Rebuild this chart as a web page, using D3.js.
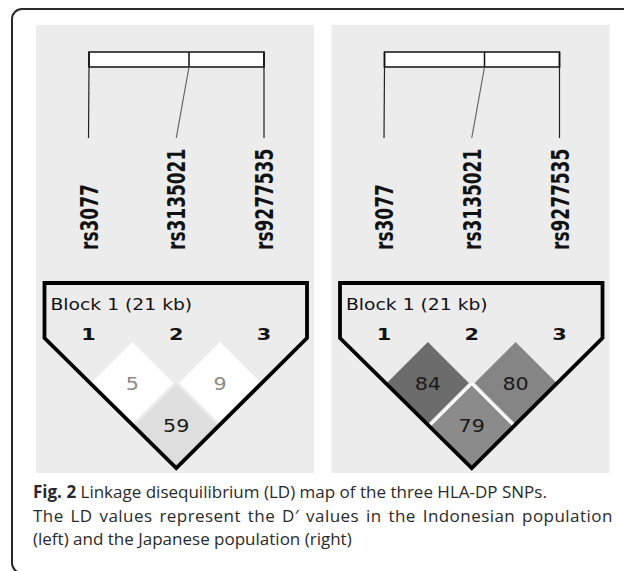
<!DOCTYPE html>
<html>
<head>
<meta charset="utf-8">
<script src="https://cdn.jsdelivr.net/npm/d3@7"></script>
<style>
  body { margin: 0; background: #fff; }
  svg { display: block; }
</style>
</head>
<body>
<script>
// SNPs and their position inside the 21 kb block
const snpNames = ["rs3077", "rs3135021", "rs9277535"];
const snpIndex = ["1", "2", "3"];
const snpKb = [0, 12, 21];

// pairwise D' values (x100), pairs as [i, j]
const pairs = [[0, 1], [1, 2], [0, 2]];
const dIndonesian = [5, 9, 59];
const dJapanese = [84, 80, 79];

const blockLabel = "Block 1 (21 kb)";
const captionBold = "Fig. 2";
const captionLines = [
  " Linkage disequilibrium (LD) map of the three HLA-DP SNPs.",
  "The LD values represent the D\u2032 values in the Indonesian population",
  "(left) and the Japanese population (right)"
];

(function app() {
  const W = 624, H = 571;
  const svg = d3.select("body").append("svg")
    .attr("width", W).attr("height", H);

  // outer frame, open to the right and bottom
  svg.append("rect")
    .attr("x", 12).attr("y", 9)
    .attr("width", 700).attr("height", 564)
    .attr("rx", 10)
    .attr("fill", "none")
    .attr("stroke", "#2a2a2a")
    .attr("stroke-width", 2);

  const panelW = 278, panelH = 448;

  const snpX = d3.scalePoint().domain(snpIndex).range([52.5, 228]);
  const kbX = d3.scaleLinear().domain([0, 21]).range([53, 228]);

  const color = d3.scaleLinear()
    .domain([10, 59, 79, 84])
    .range(["#ffffff", "#dedede", "#8b8b8b", "#6c6c6c"])
    .clamp(true);

  const half = 41, rowStep = 42, row1 = 358;

  function drawPanel(ox, values, outlineCells) {
    const g = svg.append("g").attr("transform", `translate(${ox},25)`);

    g.append("rect")
      .attr("width", panelW).attr("height", panelH)
      .attr("fill", "#ececec");

    // physical map
    g.append("rect")
      .attr("x", kbX(0)).attr("y", 27)
      .attr("width", kbX(21) - kbX(0)).attr("height", 15)
      .attr("fill", "#fff")
      .attr("stroke", "#111")
      .attr("stroke-width", 1.5);

    g.selectAll("line.tick")
      .data(snpKb)
      .enter()
      .append("line")
      .attr("class", "tick")
      .attr("x1", d => kbX(d)).attr("x2", d => kbX(d))
      .attr("y1", 27).attr("y2", 42)
      .attr("stroke", "#111").attr("stroke-width", 1.5);

    g.selectAll("line.link")
      .data(snpKb)
      .enter()
      .append("line")
      .attr("class", "link")
      .attr("x1", d => kbX(d))
      .attr("x2", (d, i) => snpX(snpIndex[i]))
      .attr("y1", 42).attr("y2", 113)
      .attr("stroke", (d, i) => (i === 1 ? "#666" : "#222"))
      .attr("stroke-width", 1.2);

    // rotated SNP names
    g.selectAll("text.snp")
      .data(snpNames)
      .enter()
      .append("text")
      .attr("class", "snp")
      .attr("transform", (d, i) =>
        `translate(${snpX(snpIndex[i]) + 9},225) scale(1.45,1) rotate(-90)`)
      .attr("font-family", "DejaVu Sans")
      .attr("font-weight", "bold")
      .attr("font-size", 17)
      .attr("fill", "#111")
      .text(d => d);

    // LD cells
    const cells = g.append("g").attr("class", "cells");
    const cellData = pairs.map((p, k) => {
      const cx = (snpX(snpIndex[p[0]]) + snpX(snpIndex[p[1]])) / 2;
      const cy = row1 + (p[1] - p[0] - 1) * rowStep;
      return { cx, cy, v: values[k], k, span: p[1] - p[0] };
    });

    cells.selectAll("path.cell")
      .data(cellData)
      .enter()
      .append("path")
      .attr("class", "cell")
      .attr("d", d =>
        `M${d.cx},${d.cy - half}L${d.cx + half},${d.cy}L${d.cx},${d.cy + half}L${d.cx - half},${d.cy}Z`)
      .attr("fill", d => color(d.v));

    if (outlineCells) {
      cells.selectAll("path.edge")
        .data(cellData.filter(d => d.span > 1))
        .enter()
        .append("path")
        .attr("class", "edge")
        .attr("d", d =>
          `M${d.cx - half},${d.cy}L${d.cx},${d.cy - half}L${d.cx + half},${d.cy}`)
        .attr("fill", "none")
        .attr("stroke", "#fff")
        .attr("stroke-width", 2);
    }

    cells.selectAll("text")
      .data(cellData)
      .enter()
      .append("text")
      .attr("transform", d => `translate(${d.cx},${d.cy + 7}) scale(1.15,1)`)
      .attr("text-anchor", "middle")
      .attr("font-family", "DejaVu Sans")
      .attr("font-size", 18)
      .attr("fill", d => (d.v < 20 ? "#8a8a8a" : "#1a1a1a"))
      .text(d => d.v);

    // block outline
    const xl = snpX("1") - 44, xr = snpX("3") + 43;
    const top = 258, side = 313;
    const bx = snpX("2"), by = 443;
    g.append("path")
      .attr("d", `M${xl},${top}L${xr},${top}L${xr},${side}L${bx},${by}L${xl},${side}Z`)
      .attr("fill", "none")
      .attr("stroke", "#000")
      .attr("stroke-width", 3.8)
      .attr("stroke-linejoin", "miter");

    g.append("text")
      .attr("transform", `translate(${xl + 6},285) scale(1.25,1)`)
      .attr("font-family", "DejaVu Sans")
      .attr("font-size", 15)
      .attr("fill", "#111")
      .text(blockLabel);

    g.selectAll("text.idx")
      .data(snpIndex)
      .enter()
      .append("text")
      .attr("class", "idx")
      .attr("transform", d => `translate(${snpX(d)},315) scale(1.3,1)`)
      .attr("text-anchor", "middle")
      .attr("font-family", "DejaVu Sans")
      .attr("font-weight", "bold")
      .attr("font-size", 16)
      .attr("fill", "#111")
      .text(d => d);
  }

  drawPanel(36, dIndonesian, false);
  drawPanel(331.5, dJapanese, true);

  // caption
  const cap = svg.append("g")
    .attr("font-family", "Open Sans")
    .attr("font-size", 17)
    .attr("fill", "#2a2a2a");

  captionLines.forEach((line, i) => {
    const t = cap.append("text")
      .attr("x", 33)
      .attr("y", 498 + i * 23.5)
      .attr("letter-spacing", i === 1 ? 0.45 : 0)
      .attr("word-spacing", i === 1 ? 2 : 0);
    if (i === 0) {
      t.append("tspan").attr("font-weight", "bold").text(captionBold);
    }
    t.append("tspan").text(line);
  });
})();
</script>
</body>
</html>
